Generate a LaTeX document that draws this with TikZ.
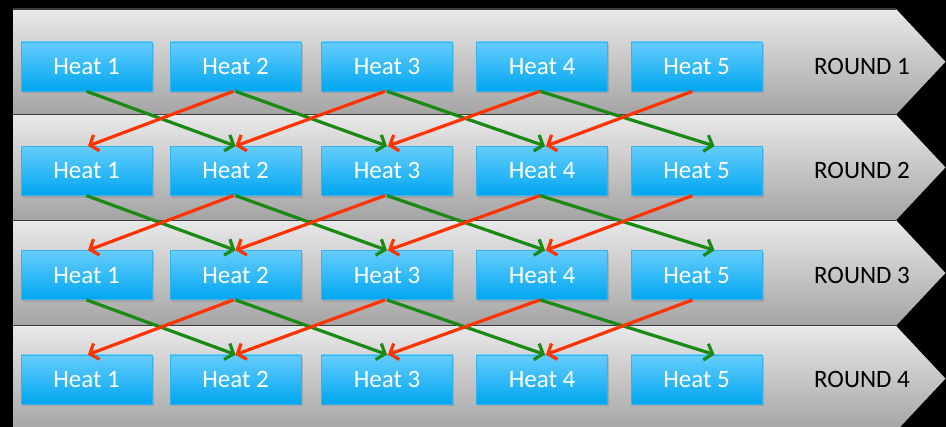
\documentclass[tikz,border=0pt]{standalone}
\usepackage{fontspec}
\setmainfont{Carlito}
\usetikzlibrary{arrows.meta,shadows}
\definecolor{bandtop}{HTML}{E9E9E9}
\definecolor{bandmid}{HTML}{D3D3D3}
\definecolor{bandbot}{HTML}{A4A4A4}
\definecolor{bandline}{HTML}{3C3C3C}
\definecolor{boxtop}{HTML}{66CDFD}
\definecolor{boxbot}{HTML}{00A6F0}
\definecolor{boxline}{HTML}{35B3EE}
\definecolor{arrgreen}{HTML}{1A8A14}
\definecolor{arrred}{HTML}{FF3300}
\tikzset{
  heatbox/.style={rectangle, minimum width=131pt, minimum height=49pt, inner sep=0pt,
    top color=boxtop, bottom color=boxbot, draw=boxline, line width=0.6pt,
    text=white, font=\fontsize{25}{27}\selectfont,
    drop shadow={opacity=0.35, shadow xshift=1.5pt, shadow yshift=-2.5pt}},
  roundlbl/.style={text=black, font=\fontsize{25}{27}\selectfont, inner sep=0pt},
  band/.style={top color=bandtop, middle color=bandmid, bottom color=bandbot},
  greenarr/.style={draw=arrgreen, line width=3.2pt, -{Straight Barb[length=7pt,width=17pt]}},
  redarr/.style={draw=arrred, line width=3.2pt, -{Straight Barb[length=7pt,width=17pt]}}
}
\begin{document}
\begin{tikzpicture}[x=1pt,y=-1pt]
\useasboundingbox (0,0) rectangle (946,427);
\fill[black] (0,0) rectangle (946,427);
\begin{scope}
\clip (0,0) rectangle (946,427);
\foreach \t in {9,114.6,220.2,325.8}{
  \shade[band] (13,\t) -- (896,\t) -- (945.5,\t+52.8) -- (896,\t+105.6) -- (13,\t+105.6) -- cycle;
  \draw[bandline, line width=1.2pt] (13,\t) -- (896,\t);
}
\end{scope}
% boxes
\foreach \r/\y in {1/66.5,2/170.8,3/275.1,4/379.4}{
  \foreach \i/\x in {1/86.5,2/235.5,3/387,4/542,5/696.5}{
    \node[heatbox] (h\r\i) at (\x,\y) {Heat \i};
  }
  \node[roundlbl] (r\r) at (862,\y) {ROUND \r};
}
% arrows
\foreach \r/\n in {1/2,2/3,3/4}{
  \draw[greenarr] (h\r1.south) -- ([xshift=0pt]h\n2.north);
  \draw[greenarr] (h\r2.south) -- ([xshift=0pt]h\n3.north);
  \draw[greenarr] (h\r3.south) -- ([xshift=3pt]h\n4.north);
  \draw[greenarr] ([xshift=-2pt]h\r4.south) -- ([xshift=18pt]h\n5.north);
  \draw[redarr] ([xshift=-2pt]h\r2.south) -- ([xshift=1.5pt]h\n1.north);
  \draw[redarr] ([xshift=-2pt]h\r3.south) -- ([xshift=0pt]h\n2.north);
  \draw[redarr] ([xshift=-2pt]h\r4.south) -- ([xshift=1pt]h\n3.north);
  \draw[redarr] ([xshift=-4pt]h\r5.south) -- ([xshift=4pt]h\n4.north);
}
\end{tikzpicture}
\end{document}
